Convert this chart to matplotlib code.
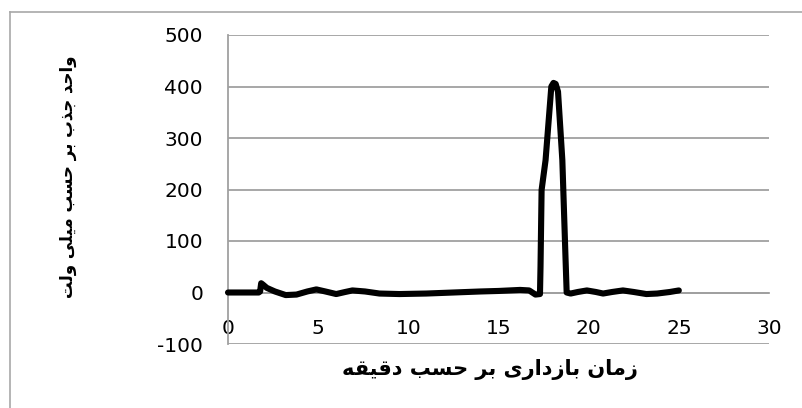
import matplotlib
matplotlib.use("Agg")
import matplotlib.pyplot as plt
from matplotlib.lines import Line2D

# ---- data ----
time_min = [0, 1.0, 1.7, 1.78, 1.84, 1.95, 2.15, 2.6, 3.2, 3.8, 4.4, 4.9, 5.4, 6.0,
            6.5, 6.9, 7.6, 8.4, 9.5, 11, 12.5, 14, 15, 16.2, 16.7, 17.05, 17.3,
            17.33, 17.39, 17.61, 17.93, 18.05, 18.17, 18.3, 18.54, 18.72, 18.78,
            19.0, 19.4, 19.9, 20.4, 20.8, 21.3, 21.9, 22.5, 23.2, 23.8, 24.5, 25.0]
absorb_mv = [0, 0, 0, 2, 18, 15, 9, 2, -5, -4, 2, 6, 2, -3,
             1, 4, 2, -2, -3, -2, 0, 2, 3, 5, 4, -4, -3,
             50, 199, 257, 400, 407, 405, 390, 257, 63, 0,
             -2, 1, 4, 1, -2, 1, 4, 1, -3, -2, 1, 4]
y_ticks = [-100, 0, 100, 200, 300, 400, 500]
x_ticks = [0, 5, 10, 15, 20, 25, 30]
x_title = "زمان بازداری بر حسب دقیقه"
y_title = "واحد جذب بر حسب میلی ولت"

# ---- minimal Arabic/Persian shaping (matplotlib has no text shaping) ----
FORMS = {  # isolated, final, initial, medial
    'ا': ('\uFE8D', '\uFE8E', None, None),
    'ب': ('\uFE8F', '\uFE90', '\uFE91', '\uFE92'),
    'ت': ('\uFE95', '\uFE96', '\uFE97', '\uFE98'),
    'ج': ('\uFE9D', '\uFE9E', '\uFE9F', '\uFEA0'),
    'ح': ('\uFEA1', '\uFEA2', '\uFEA3', '\uFEA4'),
    'د': ('\uFEA9', '\uFEAA', None, None),
    'ذ': ('\uFEAB', '\uFEAC', None, None),
    'ر': ('\uFEAD', '\uFEAE', None, None),
    'ز': ('\uFEAF', '\uFEB0', None, None),
    'س': ('\uFEB1', '\uFEB2', '\uFEB3', '\uFEB4'),
    'ق': ('\uFED5', '\uFED6', '\uFED7', '\uFED8'),
    'ل': ('\uFEDD', '\uFEDE', '\uFEDF', '\uFEE0'),
    'م': ('\uFEE1', '\uFEE2', '\uFEE3', '\uFEE4'),
    'ن': ('\uFEE5', '\uFEE6', '\uFEE7', '\uFEE8'),
    'ه': ('\uFEE9', '\uFEEA', '\uFEEB', '\uFEEC'),
    'و': ('\uFEED', '\uFEEE', None, None),
    'ی': ('\uFEEF', '\uFEF0', '\uFEF3', '\uFEF4'),
}


def dual(c):
    return c in FORMS and FORMS[c][2] is not None


def shape(text):
    out = []
    for i, c in enumerate(text):
        if c not in FORMS:
            out.append(c)
            continue
        prev = text[i - 1] if i > 0 else ''
        nxt = text[i + 1] if i + 1 < len(text) else ''
        jp = dual(prev)
        jn = dual(c) and nxt in FORMS
        iso, fin, ini, med = FORMS[c]
        if jp and jn:
            out.append(med)
        elif jp:
            out.append(fin)
        elif jn:
            out.append(ini)
        else:
            out.append(iso)
    return ''.join(reversed(out))


plt.rcParams['font.family'] = ['DejaVu Sans']

fig = plt.figure(figsize=(8.02, 4.08), dpi=100)
W, H = 802, 408
ax = fig.add_axes([228 / W, 64 / H, 541 / W, 309 / H])

grid_c = '#a0a0a0'
ax.set_xlim(0, 30)
ax.set_ylim(-100, 500)
ax.set_yticks(y_ticks)
ax.set_xticks(x_ticks)
ax.set_yticklabels([str(v) for v in y_ticks])
ax.set_xticklabels([str(v) for v in x_ticks])
ax.yaxis.grid(True, color=grid_c, linewidth=1.3)
ax.set_axisbelow(True)
for s in ['top', 'right']:
    ax.spines[s].set_visible(False)
ax.spines['left'].set_color(grid_c)
ax.spines['left'].set_linewidth(1.3)
ax.spines['bottom'].set_position(('data', 0))
ax.spines['bottom'].set_color(grid_c)
ax.spines['bottom'].set_linewidth(1.3)
ax.tick_params(axis='both', length=0, labelsize=14.5, colors='black')
ax.tick_params(axis='y', pad=18)
ax.tick_params(axis='x', pad=19)

ax.plot(time_min, absorb_mv, color='black', linewidth=4.4,
        solid_joinstyle='round', solid_capstyle='round', clip_on=False, zorder=3)

fig.text(490 / W, 1 - 370 / H, shape(x_title), ha='center', va='center',
         fontsize=15, fontweight='bold')
fig.text(68 / W, 1 - 177 / H, shape(y_title), ha='center', va='center',
         rotation=90, fontsize=12, fontweight='bold')

# chart frame (only left and top edges visible)
fc = '#a8a8a8'
fig.add_artist(Line2D([9.5 / W, 9.5 / W], [0, 1 - 11.5 / H], color=fc, linewidth=1.2))
fig.add_artist(Line2D([9.5 / W, 1], [1 - 11.5 / H, 1 - 11.5 / H], color=fc, linewidth=1.2))

fig.savefig('out.png', dpi=100)
